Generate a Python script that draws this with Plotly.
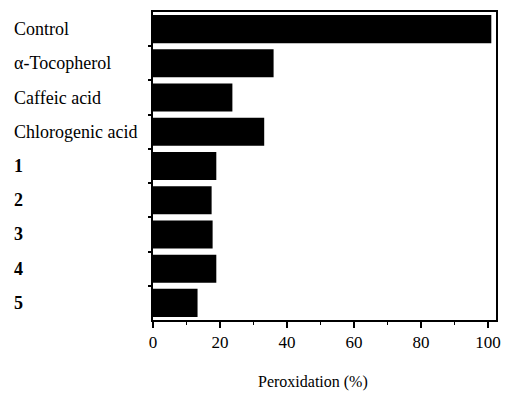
import plotly.graph_objects as go

categories = ["Control", "α-Tocopherol", "Caffeic acid", "Chlorogenic acid", "1", "2", "3", "4", "5"]
label_bold = [False, False, False, False, True, True, True, True, True]
peroxidation = [101, 36, 23.7, 33.2, 18.9, 17.5, 17.8, 18.9, 13.3]
x_ticks = [0, 20, 40, 60, 80, 100]

FONT = "Liberation Serif"
positions = list(range(len(categories)))

fig = go.Figure(go.Bar(
    x=peroxidation, y=positions, orientation="h",
    marker=dict(color="black", line=dict(width=0)),
    width=0.82,
))

annotations = []
for pos, cat, b in zip(positions, categories, label_bold):
    annotations.append(dict(
        x=-0.41, xref="paper", y=pos, yref="y",
        text=f"<b>{cat}</b>" if b else cat,
        showarrow=False, xanchor="left", yanchor="middle",
        font=dict(family=FONT, size=18, color="black"),
    ))
annotations.append(dict(
    x=0.4655, xref="paper", y=-0.20, yref="paper",
    text="Peroxidation (%)", showarrow=False, xanchor="center", yanchor="middle",
    font=dict(family=FONT, size=16, color="black"),
))

fig.update_layout(
    width=510, height=393,
    margin=dict(l=153, r=9, t=12, b=73),
    paper_bgcolor="white", plot_bgcolor="white",
    showlegend=False,
    annotations=annotations,
    font=dict(family=FONT, size=16, color="black"),
    xaxis=dict(
        range=[0, 102.4], tickvals=x_ticks,
        ticks="outside", ticklen=6, tickwidth=1.5, tickcolor="black",
        showline=True, linecolor="black", linewidth=2, mirror=True,
        showgrid=False, zeroline=False,
        tickfont=dict(family=FONT, size=17, color="black"),
        minor=dict(dtick=10, tick0=0, ticks="outside", ticklen=3, tickcolor="black", tickwidth=1.2, showgrid=False),
    ),
    yaxis=dict(
        range=[8.5, -0.5],
        tickvals=[p + 0.5 for p in positions[:-1]],
        ticks="outside", ticklen=3, tickwidth=1.5, tickcolor="black",
        showticklabels=False,
        showline=True, linecolor="black", linewidth=2, mirror=True,
        showgrid=False, zeroline=False,
    ),
)

fig.write_html(
    "out.html",
    config={"displayModeBar": False},
    post_script="document.body.style.margin='0';document.body.style.overflow='hidden';",
)
